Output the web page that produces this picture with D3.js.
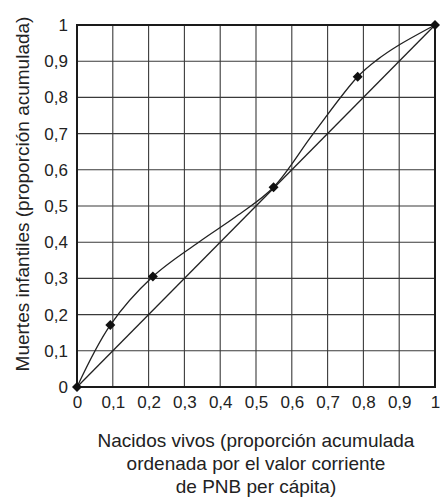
<!DOCTYPE html>
<html>
<head>
<meta charset="utf-8">
<script src="https://cdn.jsdelivr.net/npm/d3@7"></script>
<style>
  body { margin: 0; background: #fff; }
  text { font-family: "Liberation Sans", Arial, sans-serif; fill: #222; }
</style>
</head>
<body>
<div id="chart"></div>
<script>
// tick values and labels
var tickValues = [0, 0.1, 0.2, 0.3, 0.4, 0.5, 0.6, 0.7, 0.8, 0.9, 1];
var tickLabels = ["0", "0,1", "0,2", "0,3", "0,4", "0,5", "0,6", "0,7", "0,8", "0,9", "1"];

// concentration curve
var curveX = [0, 0.093, 0.212, 0.34, 0.45, 0.549, 0.66, 0.784, 0.84, 0.895, 1];
var curveY = [0, 0.171, 0.305, 0.40, 0.475, 0.552, 0.70, 0.857, 0.905, 0.942, 1];

// marked points on the curve
var markX = [0, 0.093, 0.212, 0.549, 0.784, 1];
var markY = [0, 0.171, 0.305, 0.552, 0.857, 1];

// line of equality
var diagX = [0, 1];
var diagY = [0, 1];

var yTitle = "Muertes infantiles (proporción acumulada)";
var xTitle = ["Nacidos vivos (proporción acumulada", "ordenada por el valor corriente", "de PNB per cápita)"];

var attrs = {
    svgWidth: 440,
    svgHeight: 500,
    marginLeft: 77,
    marginTop: 25,
    chartWidth: 358,
    chartHeight: 362
};

var svg = d3.select("#chart")
    .append("svg")
    .attr("width", attrs.svgWidth)
    .attr("height", attrs.svgHeight);

var chart = svg.append("g")
    .attr("transform", "translate(" + attrs.marginLeft + "," + attrs.marginTop + ")");

var xScale = d3.scaleLinear().domain([0, 1]).range([0, attrs.chartWidth]);
var yScale = d3.scaleLinear().domain([0, 1]).range([attrs.chartHeight, 0]);

// grid
chart.append("g")
    .selectAll("line.vgrid")
    .data(tickValues)
    .enter().append("line")
    .attr("x1", function (d) { return xScale(d); })
    .attr("x2", function (d) { return xScale(d); })
    .attr("y1", 0)
    .attr("y2", attrs.chartHeight)
    .attr("stroke", "#3a3a3a")
    .attr("stroke-width", 1.1);

chart.append("g")
    .selectAll("line.hgrid")
    .data(tickValues)
    .enter().append("line")
    .attr("y1", function (d) { return yScale(d); })
    .attr("y2", function (d) { return yScale(d); })
    .attr("x1", 0)
    .attr("x2", attrs.chartWidth)
    .attr("stroke", "#3a3a3a")
    .attr("stroke-width", 1.1);

// frame
chart.append("rect")
    .attr("width", attrs.chartWidth)
    .attr("height", attrs.chartHeight)
    .attr("fill", "none")
    .attr("stroke", "#1a1a1a")
    .attr("stroke-width", 2);

// axes (labels only)
var xAxis = d3.axisBottom(xScale)
    .tickValues(tickValues)
    .tickFormat(function (d, i) { return tickLabels[i]; })
    .tickSize(0)
    .tickPadding(9);

var yAxis = d3.axisLeft(yScale)
    .tickValues(tickValues)
    .tickFormat(function (d, i) { return tickLabels[i]; })
    .tickSize(0)
    .tickPadding(9);

var gx = chart.append("g")
    .attr("transform", "translate(0," + attrs.chartHeight + ")")
    .call(xAxis);

var gy = chart.append("g").call(yAxis);

[gx, gy].forEach(function (g) {
    g.select(".domain").remove();
    g.selectAll("text")
        .style("font-family", '"Liberation Sans", Arial, sans-serif')
        .style("font-size", "17px")
        .attr("fill", "#222");
});

// diagonal
var line = d3.line()
    .x(function (d) { return xScale(d[0]); })
    .y(function (d) { return yScale(d[1]); });

chart.append("path")
    .datum(d3.zip(diagX, diagY))
    .attr("d", line)
    .attr("fill", "none")
    .attr("stroke", "#222")
    .attr("stroke-width", 1.3);

// curve
var curveLine = d3.line()
    .curve(d3.curveCatmullRom.alpha(0.5))
    .x(function (d) { return xScale(d[0]); })
    .y(function (d) { return yScale(d[1]); });

chart.append("path")
    .datum(d3.zip(curveX, curveY))
    .attr("d", curveLine)
    .attr("fill", "none")
    .attr("stroke", "#222")
    .attr("stroke-width", 1.3);

// markers
chart.selectAll(".marker")
    .data(d3.zip(markX, markY))
    .enter().append("path")
    .attr("class", "marker")
    .attr("d", d3.symbol().type(d3.symbolSquare).size(50))
    .attr("transform", function (d) { return "translate(" + xScale(d[0]) + "," + yScale(d[1]) + ") rotate(45)"; })
    .attr("fill", "#111");

// titles
svg.append("text")
    .attr("transform", "translate(29,194) rotate(-90)")
    .attr("text-anchor", "middle")
    .style("font-size", "19px")
    .text(yTitle);

svg.selectAll(".xtitle")
    .data(xTitle)
    .enter().append("text")
    .attr("class", "xtitle")
    .attr("x", 256)
    .attr("y", function (d, i) { return 447 + i * 23; })
    .attr("text-anchor", "middle")
    .style("font-size", "19px")
    .text(function (d) { return d; });
</script>
</body>
</html>
